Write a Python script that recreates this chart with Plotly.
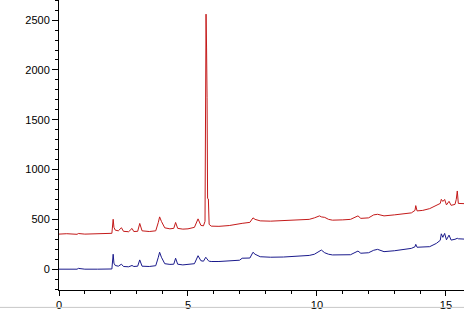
import plotly.graph_objects as go

# retention time (min)
time = [0.0, 0.3, 0.7, 0.75, 1.0, 1.5, 2.05, 2.10, 2.13, 2.18, 2.3, 2.42, 2.5, 2.7, 2.83, 2.9,
        3.05, 3.13, 3.22, 3.5, 3.75, 3.85, 3.9, 3.97, 4.1, 4.3, 4.45, 4.52, 4.6, 4.8, 5.0, 5.25,
        5.39, 5.5, 5.6, 5.66, 5.69, 5.70, 5.72, 5.74, 5.76, 5.79, 5.82, 5.9, 6.2, 6.6, 7.0, 7.1,
        7.4, 7.52, 7.6, 7.8, 8.2, 8.7, 9.25, 9.5, 9.7, 9.9, 10.1, 10.17, 10.3, 10.45, 10.6, 11.0,
        11.3, 11.59, 11.7, 12.0, 12.2, 12.35, 12.6, 13.0, 13.4, 13.66, 13.8, 13.83, 13.88, 14.1,
        14.37, 14.63, 14.78, 14.82, 14.88, 14.95, 15.02, 15.12, 15.2, 15.35, 15.4, 15.44, 15.48, 15.7]

red_signal = [352, 356, 350, 358, 352, 355, 360, 501, 420, 392, 385, 416, 380, 376, 409, 378,
              380, 459, 385, 378, 385, 470, 525, 480, 415, 405, 410, 469, 410, 402, 405, 420,
              505, 440, 435, 480, 1720, 2560, 2230, 1720, 710, 705, 450, 432, 430, 438, 450, 460,
              470, 515, 500, 485, 482, 488, 495, 505, 500, 515, 535, 525, 520, 500, 492, 495,
              500, 535, 510, 515, 545, 551, 535, 545, 555, 565, 590, 638, 585, 590,
              608, 641, 660, 701, 680, 700, 645, 681, 641, 650, 700, 785, 660, 658]

blue_signal = [0, 0, 0, 8, 0, 0, 2, 150, 60, 37, 30, 50, 27, 24, 37, 27,
               30, 93, 30, 27, 35, 120, 170, 120, 55, 48, 50, 110, 50, 43, 45, 55,
               135, 85, 80, 100, 120, 115, 110, 100, 90, 85, 80, 77, 77, 82, 90, 110,
               112, 170, 150, 125, 120, 122, 133, 140, 138, 150, 180, 192, 165, 150, 143, 140,
               145, 182, 160, 165, 190, 199, 176, 185, 195, 209, 225, 249, 220, 222,
               226, 259, 290, 355, 320, 359, 295, 342, 292, 300, 309, 310, 305, 302]

fig = go.Figure()
fig.add_trace(go.Scatter(x=time, y=blue_signal, mode="lines",
                         line=dict(color="#1a1a8c", width=1), showlegend=False))
fig.add_trace(go.Scatter(x=time, y=red_signal, mode="lines",
                         line=dict(color="#c41a1a", width=1), showlegend=False))

axis_font = dict(family="Liberation Sans, Arial, sans-serif", size=11, color="black")

fig.update_layout(
    width=464, height=311,
    margin=dict(l=59, r=0, t=0, b=19),
    paper_bgcolor="white", plot_bgcolor="white",
    xaxis=dict(range=[0, 15.70], showline=True, linecolor="black", linewidth=1,
               showgrid=False, zeroline=False, ticks="outside", ticklen=5,
               tickcolor="black", dtick=5, tick0=0, tickfont=axis_font,
               minor=dict(dtick=1, ticks="outside", ticklen=3, tickcolor="black", showgrid=False)),
    yaxis=dict(range=[-209, 2702], showline=True, linecolor="black", linewidth=1,
               showgrid=False, zeroline=False, ticks="outside", ticklen=6,
               tickcolor="black", dtick=500, tick0=0, tickfont=axis_font,
               minor=dict(dtick=100, ticks="outside", ticklen=3, tickcolor="black", showgrid=False)),
    shapes=[dict(type="line", xref="paper", yref="paper", x0=-0.2, x1=1.0,
                 y0=-0.06, y1=-0.06, line=dict(color="#c8c8c8", width=1))],
)

fig.write_html("out.html")
